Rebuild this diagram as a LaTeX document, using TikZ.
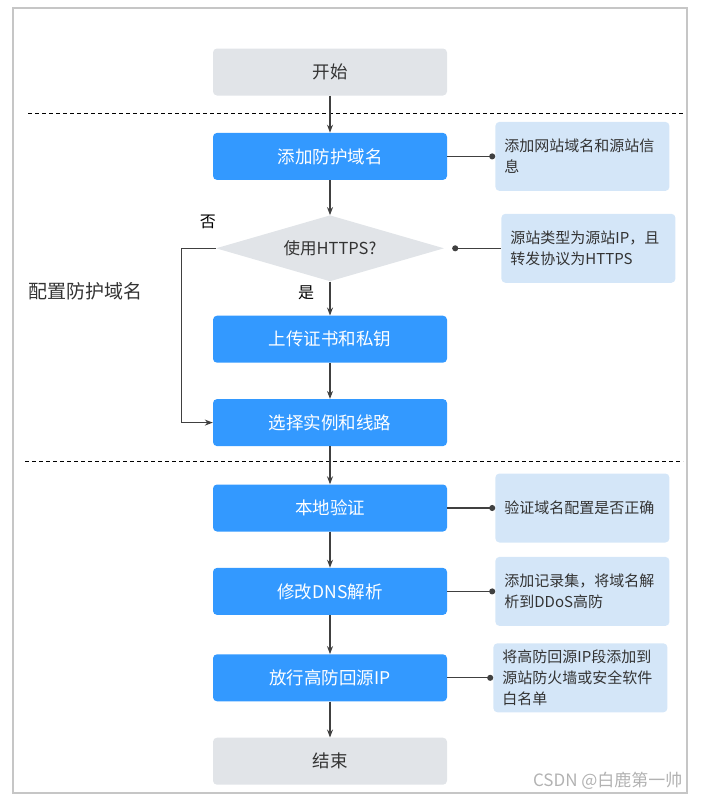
\documentclass[tikz,border=0pt]{standalone}
\usepackage{fontspec}
\setmainfont{Noto Sans CJK SC}
\usepackage{tikz}
\usetikzlibrary{positioning,shapes.geometric,arrows.meta}

\definecolor{boxblue}{RGB}{51,153,255}
\definecolor{boxgray}{RGB}{225,228,232}
\definecolor{noteblue}{RGB}{212,230,248}
\definecolor{linegray}{RGB}{64,64,64}
\definecolor{textgray}{RGB}{51,51,51}

\begin{document}
\begin{tikzpicture}[
        x=1pt, y=-1pt,
        stepbox/.style={rectangle, fill=boxblue, text=white, rounded corners=4pt, minimum width=234pt, minimum height=47pt, font=\fontsize{17.5}{21}\selectfont},
        endbox/.style={stepbox, fill=boxgray, text=textgray},
        decide/.style={diamond, aspect=3.45, fill=boxgray, text=textgray, inner sep=0pt, minimum width=228pt, minimum height=66pt, font=\fontsize{16.5}{20}\selectfont},
        note/.style={rectangle, fill=noteblue, text=textgray, rounded corners=4pt, text width=156pt, inner xsep=9pt, minimum height=69pt, align=left, font=\fontsize{15}{21}\selectfont},
        lbl/.style={text=black, font=\fontsize{16}{20}\selectfont},
        arrow/.style={->, >={Stealth[length=8pt,width=6pt]}, line width=1.2pt, linegray},
        dotline/.style={line width=1.2pt, linegray},
        sep/.style={dash pattern=on 4pt off 3pt, line width=1pt, black}
    ]
    \useasboundingbox (0,0) rectangle (701,803);
    \draw[gray!45, line width=1.2pt] (13,8) rectangle (687,793);

    % Main flow
    \node[endbox] (start) at (330,72) {开始};
    \node[stepbox, below=37pt of start] (add) {添加防护域名};
    \node[decide, below=35pt of add] (https) {使用HTTPS?};
    \node[stepbox, below=34pt of https] (cert) {上传证书和私钥};
    \node[stepbox, below=36pt of cert] (inst) {选择实例和线路};
    \node[stepbox, below=38pt of inst] (local) {本地验证};
    \node[stepbox, below=36pt of local] (dns) {修改DNS解析};
    \node[stepbox, below=39pt of dns] (allow) {放行高防回源IP};
    \node[endbox, below=36pt of allow] (end) {结束};

    % Notes (right)
    \node[note, right=48pt of add] (n1) {添加网站域名和源站信\\息};
    \node[note, right=57pt of https] (n2) {源站类型为源站IP，且\\转发协议为HTTPS};
    \node[note, right=48pt of local] (n3) {验证域名配置是否正确};
    \node[note, right=48pt of dns] (n4) {添加记录集，将域名解\\析到DDoS高防};
    \node[note, right=46pt of allow] (n5) {将高防回源IP段添加到\\源站防火墙或安全软件\\白名单};

    % Separators
    \draw[sep] (28,113) -- (683,113);
    \draw[sep] (25,461) -- (683,461);

    % Arrows
    \draw[arrow] (start) -- (add);
    \draw[arrow] (add) -- (https);
    \draw[arrow] (https) -- (cert);
    \draw[arrow] (cert) -- (inst);
    \draw[arrow] (inst) -- (local);
    \draw[arrow] (local) -- (dns);
    \draw[arrow] (dns) -- (allow);
    \draw[arrow] (allow) -- (end);
    \draw[arrow] (https.west) -- ++(-34pt,0) |- (inst.west);

    % Note links
    \draw[dotline, -{Circle[length=6pt]}] (add.east) -- (n1.west);
    \draw[dotline, {Circle[length=6pt]}-] ([xshift=8pt]https.east) -- (n2.west);
    \draw[dotline, -{Circle[length=6pt]}] (local.east) -- (n3.west);
    \draw[dotline, -{Circle[length=6pt]}] (dns.east) -- (n4.west);
    \draw[dotline, -{Circle[length=6pt]}] (allow.east) -- (n5.west);

    \node[lbl] (no) at ([xshift=-8pt,yshift=26pt]https.west) {否};
    \node[lbl] (yes) at ([xshift=-24pt,yshift=-11pt]https.south) {是};
    \node[anchor=west, text=textgray, font=\fontsize{19}{23}\selectfont] (group) at (25,291) {配置防护域名};
    \node[anchor=east, text=gray!60, font=\fontsize{17}{20}\selectfont] (csdn) at (686,781) {CSDN @白鹿第一帅};
\end{tikzpicture}
\end{document}
